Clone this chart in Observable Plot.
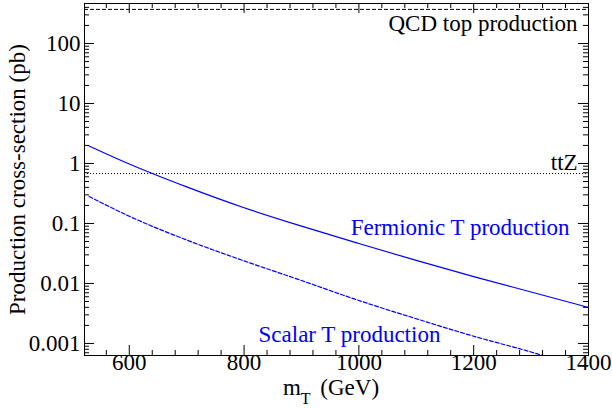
<!DOCTYPE html>
<html><head><meta charset="utf-8">
<script src="https://cdn.jsdelivr.net/npm/d3@7"></script>
<script src="https://cdn.jsdelivr.net/npm/@observablehq/plot@0.6"></script>
<style>html,body{margin:0;padding:0;background:#fff} svg{display:block}</style>
</head><body><div id="chart"></div>
<script>
// ---- data ----
const fermionicMass = [530, 600, 700, 800, 900, 1000, 1100, 1200, 1300, 1400];
const fermionicXsec = [1.96, 0.98, 0.407, 0.183, 0.0902, 0.0463, 0.0242, 0.0130, 0.0072, 0.00398];
const scalarMass = [530, 600, 700, 800, 900, 1000, 1100, 1200, 1300, 1330];
const scalarXsec = [0.282, 0.132, 0.053, 0.0238, 0.0112, 0.0052, 0.00258, 0.00132, 0.00072, 0.00059];
const qcdTopXsec = 370;
const ttZXsec = 0.68;
const xTicks = [600, 800, 1000, 1200, 1400];
const yTicks = [0.001, 0.01, 0.1, 1, 10, 100];
const yTickLabels = ["0.001", "0.01", "0.1", "1", "10", "100"];
const labelText = ["QCD top production", "ttZ", "Fermionic T production", "Scalar T production"];
const labelMass = [1381, 1381, 1367, 1142];
const labelXsec = [218, 1.02, 0.0838, 0.00138];
const labelColor = ["black", "black", "#0000ff", "#0000ff"];
const xDomain = [522, 1400];
const yDomain = [0.00063, 464];

const fermionic = fermionicMass.map((m, i) => ({m, s: fermionicXsec[i]}));
const scalar = scalarMass.map((m, i) => ({m, s: scalarXsec[i]}));
const labels = labelText.map((t, i) => ({t, m: labelMass[i], s: labelXsec[i], c: labelColor[i]}));

const xMinor = d3.range(560, 1401, 40).filter(v => !xTicks.includes(v));
const yMinor = d3.scaleLog().domain(yDomain).ticks()
  .filter(v => v >= yDomain[0] && v <= yDomain[1] && !yTicks.some(t => Math.abs(t - v) / t < 1e-9));

const FONT = "Liberation Serif, Times New Roman, serif";
const ML = 84, MR = 24, MT = 3, MB = 53, W = 612, H = 408;
const PW = W - ML - MR, PH = H - MT - MB;
const MAJ = 10, MIN = 5;

const chart = Plot.plot({
  width: W, height: H,
  marginLeft: ML, marginRight: MR, marginTop: MT, marginBottom: MB,
  style: {fontFamily: FONT, fontSize: "23px", background: "white", color: "black"},
  x: {domain: xDomain, axis: null},
  y: {type: "log", domain: yDomain, axis: null},
  marks: [
    Plot.ruleY([qcdTopXsec], {stroke: "black", strokeWidth: 1, strokeDasharray: "4,2"}),
    Plot.ruleY([ttZXsec], {stroke: "black", strokeWidth: 1, strokeDasharray: "1,2"}),
    Plot.line(fermionic, {x: "m", y: "s", stroke: "#0000ff", strokeWidth: 1.2, curve: "monotone-x", clip: true}),
    Plot.line(scalar, {x: "m", y: "s", stroke: "#0000ff", strokeWidth: 1.2, strokeDasharray: "4,2", curve: "monotone-x", clip: true}),
    // inward ticks, all four sides
    Plot.tickX(xTicks, {stroke: "black", insetTop: PH - MAJ}),
    Plot.tickX(xTicks, {stroke: "black", insetBottom: PH - MAJ}),
    Plot.tickX(xMinor, {stroke: "black", insetTop: PH - MIN}),
    Plot.tickX(xMinor, {stroke: "black", insetBottom: PH - MIN}),
    Plot.tickY(yTicks, {stroke: "black", insetRight: PW - MAJ}),
    Plot.tickY(yTicks, {stroke: "black", insetLeft: PW - MAJ}),
    Plot.tickY(yMinor, {stroke: "black", insetRight: PW - MIN}),
    Plot.tickY(yMinor, {stroke: "black", insetLeft: PW - MIN}),
    Plot.axisX({ticks: xTicks, tickFormat: d => String(d), tickSize: 0, tickPadding: 4, dy: -6, label: null, fontSize: 23, fontFamily: FONT}),
    Plot.axisY({ticks: yTicks, tickFormat: d => yTickLabels[yTicks.indexOf(d)], tickSize: 0, tickPadding: 4, label: null, fontSize: 23, fontFamily: FONT}),
    Plot.text(labels, {x: "m", y: "s", text: "t", fill: "c", textAnchor: "end", fontSize: 23, fontFamily: FONT}),
    Plot.text(["Production cross-section (pb)"], {frameAnchor: "left", textAnchor: "middle", rotate: -90, dx: -67, fontSize: 23, fontFamily: FONT, fill: "black"}),
    Plot.frame({stroke: "black", strokeWidth: 1})
  ]
});

// x-axis title with subscript
const sx = chart.scale("x");
const cx = (sx.range[0] + sx.range[1]) / 2 - 5;
const t = d3.select(chart).append("text")
  .attr("x", cx).attr("y", 395)
  .attr("text-anchor", "middle")
  .attr("font-family", FONT).attr("font-size", 23).attr("fill", "black");
t.append("tspan").text("m");
t.append("tspan").attr("dy", 9).attr("font-size", 16).text("T");
t.append("tspan").attr("dy", -9).attr("dx", 4).text(" (GeV)");

document.getElementById("chart").appendChild(chart);
</script>
</body></html>
